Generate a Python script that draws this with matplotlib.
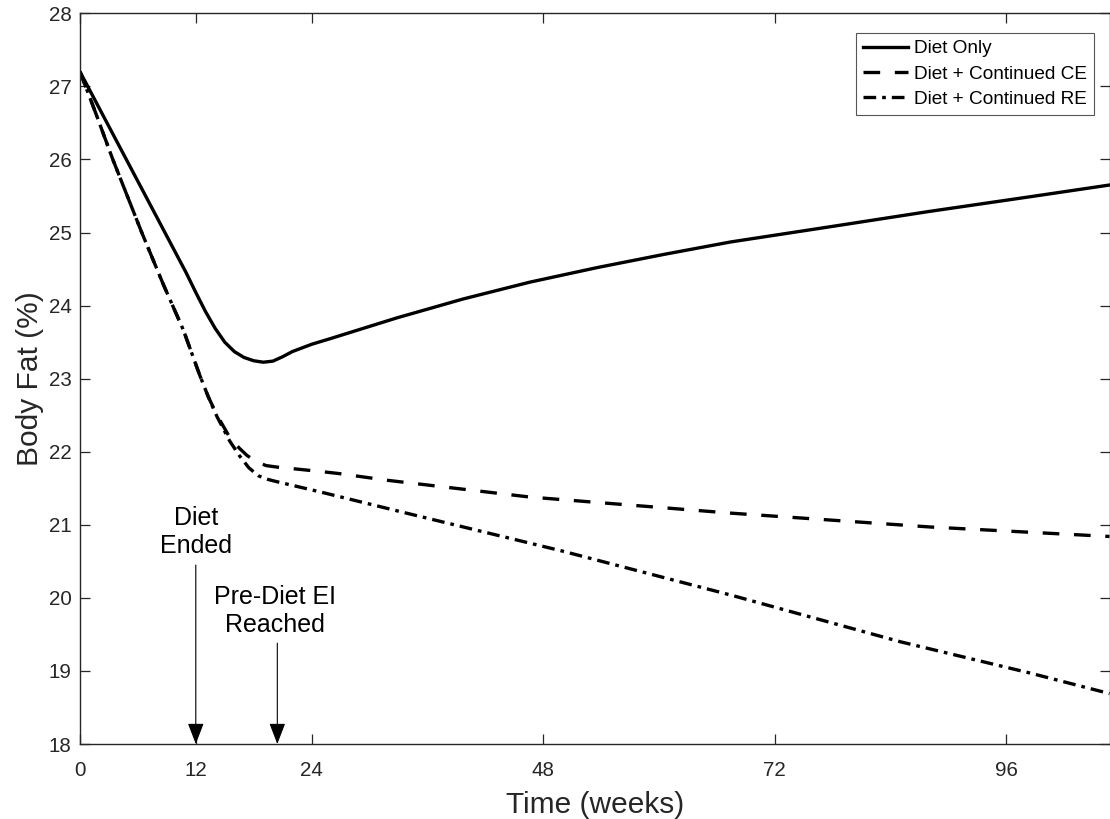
import numpy as np
import matplotlib
matplotlib.use("Agg")
import matplotlib.pyplot as plt

plt.rcParams["font.family"] = ["Liberation Sans", "DejaVu Sans"]

# values (weeks, body fat %)
t_diet = [0, 2, 4, 6, 8, 10, 11, 12, 13, 14, 15, 16, 17, 18, 19, 20, 21, 22, 24, 26,
          32.8, 39.7, 46.6, 53.6, 60.5, 67.4, 77.8, 88.1, 98.5, 106.7]
bf_diet = [27.2, 26.7, 26.2, 25.7, 25.2, 24.7, 24.45, 24.18, 23.92, 23.69, 23.5, 23.37,
           23.29, 23.245, 23.225, 23.24, 23.3, 23.37, 23.47, 23.55,
           23.83, 24.09, 24.32, 24.52, 24.7, 24.87, 25.08, 25.29, 25.49, 25.65]

t_ce = [0, 1.5, 3.4, 6.4, 8.6, 10.7, 12.4, 13.3, 14.2, 15.5, 16.5, 17.3, 18.3, 19.3,
        20.4, 24.9, 26.9, 31.8, 46.6, 67.4, 88.1, 106.7]
bf_ce = [27.2, 26.68, 26.0, 25.0, 24.3, 23.67, 23.05, 22.75, 22.5, 22.2, 22.05, 21.95,
         21.86, 21.81, 21.79, 21.73, 21.7, 21.61, 21.38, 21.16, 20.97, 20.84]

t_re = [0, 1.5, 3.4, 6.4, 8.6, 10.7, 12.4, 13.3, 14.2, 15.5, 16.5, 17.5, 18.5, 19.5,
        20.4, 24.9, 33.2, 50.0, 67.4, 85.0, 98.5, 106.7]
bf_re = [27.2, 26.68, 26.0, 25.0, 24.3, 23.67, 23.05, 22.75, 22.48, 22.15, 21.95, 21.78,
         21.67, 21.62, 21.59, 21.45, 21.18, 20.64, 20.04, 19.4, 18.97, 18.69]

diet_end = 12
ei_reached = 20.45

gray = "#262626"

fig = plt.figure(figsize=(11.1, 8.19), dpi=100)
ax = fig.add_axes([80 / 1110, 1 - 744 / 819, 1029.5 / 1110, 730.7 / 819])

ax.plot(t_diet, bf_diet, color="k", lw=2.4, label="Diet Only")
ax.plot(t_ce, bf_ce, color="k", lw=2.4, dashes=(5.0, 4.4), label="Diet + Continued CE")
ax.plot(t_re, bf_re, color="k", lw=2.4, dashes=(3.8, 1.8, 1.1, 1.8),
        label="Diet + Continued RE")

ax.set_xlim(0, 106.7)
ax.set_ylim(18, 28)
ax.set_xticks([0, 12, 24, 48, 72, 96])
ax.set_yticks(np.arange(18, 29, 1))

ax.tick_params(direction="in", length=7.5, width=0.9, colors=gray,
               top=True, right=True, labelsize=14.8)
ax.tick_params(axis="x", pad=12)
ax.tick_params(axis="y", pad=6)
for s in ax.spines.values():
    s.set_color(gray)
    s.set_linewidth(1.0)

ax.set_xlabel("Time (weeks)", fontsize=21.5, color=gray)
ax.set_ylabel("Body Fat (%)", fontsize=21.5, color=gray)
ax.xaxis.set_label_coords(0.5, -0.065)
ax.yaxis.set_label_coords(-0.035, 0.5)

# markers for end of diet and return to pre-diet intake
ax.annotate("", xy=(diet_end, 18), xytext=(diet_end, 20.45),
            arrowprops=dict(arrowstyle="-|>,head_length=1.3,head_width=0.5",
                            color="k", lw=0.8, shrinkA=0, shrinkB=0))
ax.text(diet_end, 20.55, "Diet\nEnded", ha="center", va="bottom", fontsize=18)

ax.annotate("", xy=(ei_reached, 18), xytext=(ei_reached, 19.38),
            arrowprops=dict(arrowstyle="-|>,head_length=1.3,head_width=0.5",
                            color="k", lw=0.8, shrinkA=0, shrinkB=0))
ax.text(20.2, 19.47, "Pre-Diet EI\nReached", ha="center", va="bottom", fontsize=18)

leg = ax.legend(loc="upper right", bbox_to_anchor=(0.9845, 0.9726), borderaxespad=0,
                fontsize=13.7, frameon=True, fancybox=False, framealpha=1,
                handlelength=2.4, handletextpad=0.3, labelspacing=0.42, borderpad=0.35)
leg.get_frame().set_edgecolor("#555555")
leg.get_frame().set_linewidth(0.8)

fig.savefig("out.png", dpi=100)
